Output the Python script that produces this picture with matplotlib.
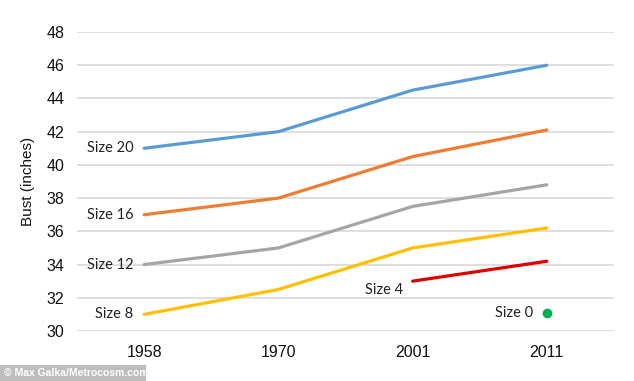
import matplotlib
matplotlib.use('Agg')
import matplotlib.pyplot as plt
from matplotlib.patches import Rectangle

years = ['1958', '1970', '2001', '2011']
size20 = [41.0, 42.0, 44.5, 46.0]
size16 = [37.0, 38.0, 40.5, 42.1]
size12 = [34.0, 35.0, 37.5, 38.8]
size8 = [31.0, 32.5, 35.0, 36.2]
size4 = [33.0, 34.2]      # 2001, 2011
size0 = [31.1]            # 2011
yticks = [30, 32, 34, 36, 38, 40, 42, 44, 46, 48]

fig = plt.figure(figsize=(6.34, 3.81), dpi=100)
fig.patch.set_facecolor('white')
ax = fig.add_axes([77/634, 50/381, 537/634, 299/381])

x = list(range(len(years)))
lw = 2.3
ax.plot(x, size20, color='#5B9BD5', lw=lw, solid_capstyle='round', zorder=3)
ax.plot(x, size16, color='#ED7D31', lw=lw, solid_capstyle='round', zorder=3)
ax.plot(x, size12, color='#A5A5A5', lw=lw, solid_capstyle='round', zorder=3)
ax.plot(x, size8, color='#FFC000', lw=lw, solid_capstyle='round', zorder=3)
ax.plot(x[2:], size4, color='#E00000', lw=lw, solid_capstyle='round', zorder=3)
ax.plot(x[3:], size0, 'o', color='#00B050', ms=6, zorder=3)

lab = dict(family='Lato', fontsize=10.5, color='#222222', va='center', ha='right')
ax.text(-0.08, size20[0], 'Size 20', **lab)
ax.text(-0.08, size16[0], 'Size 16', **lab)
ax.text(-0.08, size12[0], 'Size 12', **lab)
ax.text(-0.08, size8[0], 'Size 8', **lab)
ax.text(1.93, size4[0] - 0.55, 'Size 4', **lab)
ax.text(2.9, size0[0], 'Size 0', **lab)

ax.set_xlim(-0.5, 3.5)
ax.set_ylim(30, 48)
ax.set_xticks(x)
ax.set_xticklabels(years, family='Liberation Sans', fontsize=11.5, color='#111111')
ax.set_yticks(yticks)
ax.set_yticklabels([str(v) for v in yticks], family='Liberation Sans', fontsize=11.5, color='#111111')
ax.tick_params(length=0, pad=9)
ax.tick_params(axis='x', pad=10)
ax.grid(axis='y', color='#D9D9D9', lw=1.2, zorder=0)
for s in ax.spines.values():
    s.set_visible(False)
ax.set_ylabel('Bust (inches)', family='Liberation Sans', fontsize=11, color='#111111', labelpad=8)

# watermark box
fig.patches.append(Rectangle((0, 0), 146/634, 16/381, transform=fig.transFigure,
                             facecolor='#BDBDBD', edgecolor='none', zorder=5))
fig.text(4/634, 8/381, '\u00a9 Max Galka/Metrocosm.com', family='Liberation Sans',
         fontsize=7.5, color='white', weight='bold', va='center', ha='left', zorder=6)

fig.savefig('out.png', dpi=100)
